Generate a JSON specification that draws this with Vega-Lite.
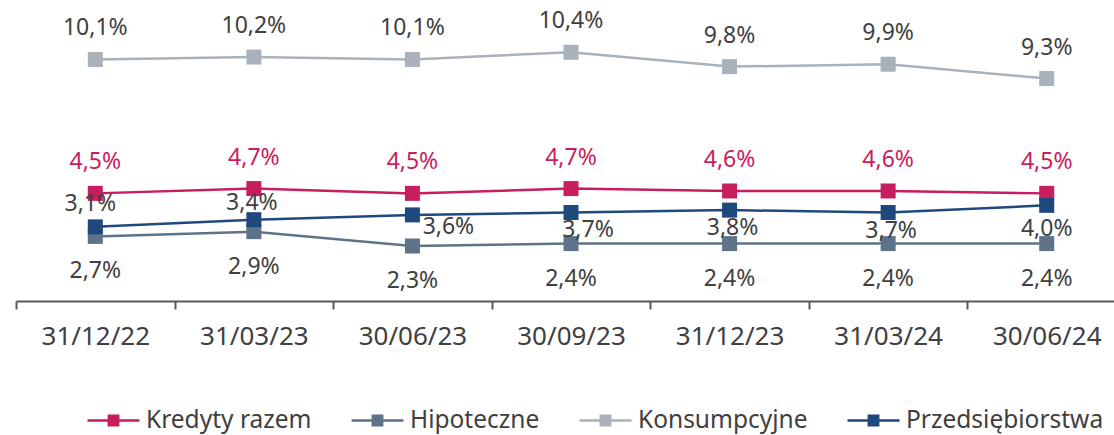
{
  "$schema": "https://vega.github.io/schema/vega-lite/v6.json",
  "width": 1098,
  "height": 287,
  "autosize": {"type": "none"},
  "padding": {"left": 16, "top": 14, "right": 0, "bottom": 134},
  "background": "white",
  "config": {"view": {"stroke": null}, "font": "Noto Sans"},
  "data": {"values": [
    {"date": "31/12/22", "series": "Kredyty razem", "value": 4.5},
    {"date": "31/12/22", "series": "Hipoteczne", "value": 2.7},
    {"date": "31/12/22", "series": "Konsumpcyjne", "value": 10.1},
    {"date": "31/12/22", "series": "Przedsiębiorstwa", "value": 3.1},
    {"date": "31/03/23", "series": "Kredyty razem", "value": 4.7},
    {"date": "31/03/23", "series": "Hipoteczne", "value": 2.9},
    {"date": "31/03/23", "series": "Konsumpcyjne", "value": 10.2},
    {"date": "31/03/23", "series": "Przedsiębiorstwa", "value": 3.4},
    {"date": "30/06/23", "series": "Kredyty razem", "value": 4.5},
    {"date": "30/06/23", "series": "Hipoteczne", "value": 2.3},
    {"date": "30/06/23", "series": "Konsumpcyjne", "value": 10.1},
    {"date": "30/06/23", "series": "Przedsiębiorstwa", "value": 3.6},
    {"date": "30/09/23", "series": "Kredyty razem", "value": 4.7},
    {"date": "30/09/23", "series": "Hipoteczne", "value": 2.4},
    {"date": "30/09/23", "series": "Konsumpcyjne", "value": 10.4},
    {"date": "30/09/23", "series": "Przedsiębiorstwa", "value": 3.7},
    {"date": "31/12/23", "series": "Kredyty razem", "value": 4.6},
    {"date": "31/12/23", "series": "Hipoteczne", "value": 2.4},
    {"date": "31/12/23", "series": "Konsumpcyjne", "value": 9.8},
    {"date": "31/12/23", "series": "Przedsiębiorstwa", "value": 3.8},
    {"date": "31/03/24", "series": "Kredyty razem", "value": 4.6},
    {"date": "31/03/24", "series": "Hipoteczne", "value": 2.4},
    {"date": "31/03/24", "series": "Konsumpcyjne", "value": 9.9},
    {"date": "31/03/24", "series": "Przedsiębiorstwa", "value": 3.7},
    {"date": "30/06/24", "series": "Kredyty razem", "value": 4.5},
    {"date": "30/06/24", "series": "Hipoteczne", "value": 2.4},
    {"date": "30/06/24", "series": "Konsumpcyjne", "value": 9.3},
    {"date": "30/06/24", "series": "Przedsiębiorstwa", "value": 4.0}
  ]},
  "transform": [
    {"calculate": "replace(format(datum.value, '.1f'), '.', ',') + '%'", "as": "label"}
  ],
  "encoding": {
    "x": {
      "field": "date", "type": "ordinal", "sort": null,
      "scale": {"type": "band", "range": [0, 1110], "paddingInner": 0, "paddingOuter": 0},
      "axis": {
        "title": null, "tickBand": "extent", "grid": false,
        "domainColor": "#595959", "domainWidth": 2,
        "tickColor": "#595959", "tickWidth": 2, "tickSize": 8,
        "labelFont": "Noto Sans", "labelFontSize": 26, "labelColor": "#404040",
        "labelPadding": 14, "labelAngle": 0
      }
    },
    "y": {
      "field": "value", "type": "quantitative",
      "scale": {"domain": [0, 12], "nice": false},
      "axis": null
    }
  },
  "layer": [
    {
      "mark": {"type": "line", "strokeWidth": 2.5},
      "encoding": {
        "color": {
          "field": "series", "type": "nominal",
          "scale": {
            "domain": ["Kredyty razem", "Hipoteczne", "Konsumpcyjne", "Przedsiębiorstwa"],
            "range": ["#C81D5E", "#5E7387", "#A9B1BA", "#1F497D"]
          },
          "legend": {
            "orient": "none", "legendX": 70, "legendY": 379, "direction": "horizontal",
            "title": null,
            "symbolType": "M-1,0H1M-0.18,-0.18H0.18V0.18H-0.18Z",
            "symbolSize": 2704, "symbolStrokeWidth": 2.5, "symbolOpacity": 1,
            "labelFont": "Noto Sans", "labelFontSize": 24.5, "labelColor": "#404040",
            "labelOffset": 5, "columnPadding": 34, "labelLimit": 400,
            "encode": {"symbols": {"update": {
              "fill": {"scale": "color", "field": "value"},
              "stroke": {"scale": "color", "field": "value"}
            }}}
          }
        }
      }
    },
    {
      "mark": {"type": "point", "shape": "square", "filled": true, "size": 225, "opacity": 1},
      "encoding": {
        "color": {
          "field": "series", "type": "nominal",
          "scale": {
            "domain": ["Kredyty razem", "Hipoteczne", "Konsumpcyjne", "Przedsiębiorstwa"],
            "range": ["#C81D5E", "#5E7387", "#A9B1BA", "#1F497D"]
          },
          "legend": {
            "orient": "none", "legendX": 70, "legendY": 379, "direction": "horizontal",
            "title": null,
            "symbolType": "M-1,0H1M-0.18,-0.18H0.18V0.18H-0.18Z",
            "symbolSize": 2704, "symbolStrokeWidth": 2.5, "symbolOpacity": 1,
            "labelFont": "Noto Sans", "labelFontSize": 24.5, "labelColor": "#404040",
            "labelOffset": 5, "columnPadding": 34, "labelLimit": 400,
            "encode": {"symbols": {"update": {
              "fill": {"scale": "color", "field": "value"},
              "stroke": {"scale": "color", "field": "value"}
            }}}
          }
        }
      }
    },
    {
      "transform": [{"filter": "datum.series === 'Konsumpcyjne'"}],
      "mark": {"type": "text", "font": "Noto Sans", "fontSize": 23, "color": "#404040", "baseline": "middle", "dy": -31},
      "encoding": {"text": {"field": "label"}}
    },
    {
      "transform": [{"filter": "datum.series === 'Kredyty razem'"}],
      "mark": {"type": "text", "font": "Noto Sans", "fontSize": 23, "color": "#C81D5E", "baseline": "middle", "dy": -31},
      "encoding": {"text": {"field": "label"}}
    },
    {
      "transform": [{"filter": "datum.series === 'Hipoteczne'"}],
      "mark": {"type": "text", "font": "Noto Sans", "fontSize": 23, "color": "#404040", "baseline": "middle", "dy": 35},
      "encoding": {"text": {"field": "label"}}
    },
    {
      "transform": [{"filter": "datum.series === 'Przedsiębiorstwa' && datum.date === '31/12/22'"}],
      "mark": {"type": "text", "font": "Noto Sans", "fontSize": 23, "color": "#404040", "baseline": "middle", "dx": -5, "dy": -23},
      "encoding": {"text": {"field": "label"}}
    },
    {
      "transform": [{"filter": "datum.series === 'Przedsiębiorstwa' && datum.date === '31/03/23'"}],
      "mark": {"type": "text", "font": "Noto Sans", "fontSize": 23, "color": "#404040", "baseline": "middle", "dx": -2, "dy": -17},
      "encoding": {"text": {"field": "label"}}
    },
    {
      "transform": [{"filter": "datum.series === 'Przedsiębiorstwa' && datum.date === '30/06/23'"}],
      "mark": {"type": "text", "font": "Noto Sans", "fontSize": 23, "color": "#404040", "baseline": "middle", "dx": 36, "dy": 12},
      "encoding": {"text": {"field": "label"}}
    },
    {
      "transform": [{"filter": "datum.series === 'Przedsiębiorstwa' && datum.date === '30/09/23'"}],
      "mark": {"type": "text", "font": "Noto Sans", "fontSize": 23, "color": "#404040", "baseline": "middle", "dx": 17, "dy": 17.5},
      "encoding": {"text": {"field": "label"}}
    },
    {
      "transform": [{"filter": "datum.series === 'Przedsiębiorstwa' && (datum.date === '31/12/23' || datum.date === '31/03/24')"}],
      "mark": {"type": "text", "font": "Noto Sans", "fontSize": 23, "color": "#404040", "baseline": "middle", "dx": 3, "dy": 18},
      "encoding": {"text": {"field": "label"}}
    },
    {
      "transform": [{"filter": "datum.series === 'Przedsiębiorstwa' && datum.date === '30/06/24'"}],
      "mark": {"type": "text", "font": "Noto Sans", "fontSize": 23, "color": "#404040", "baseline": "middle", "dx": 0, "dy": 24},
      "encoding": {"text": {"field": "label"}}
    }
  ]
}
